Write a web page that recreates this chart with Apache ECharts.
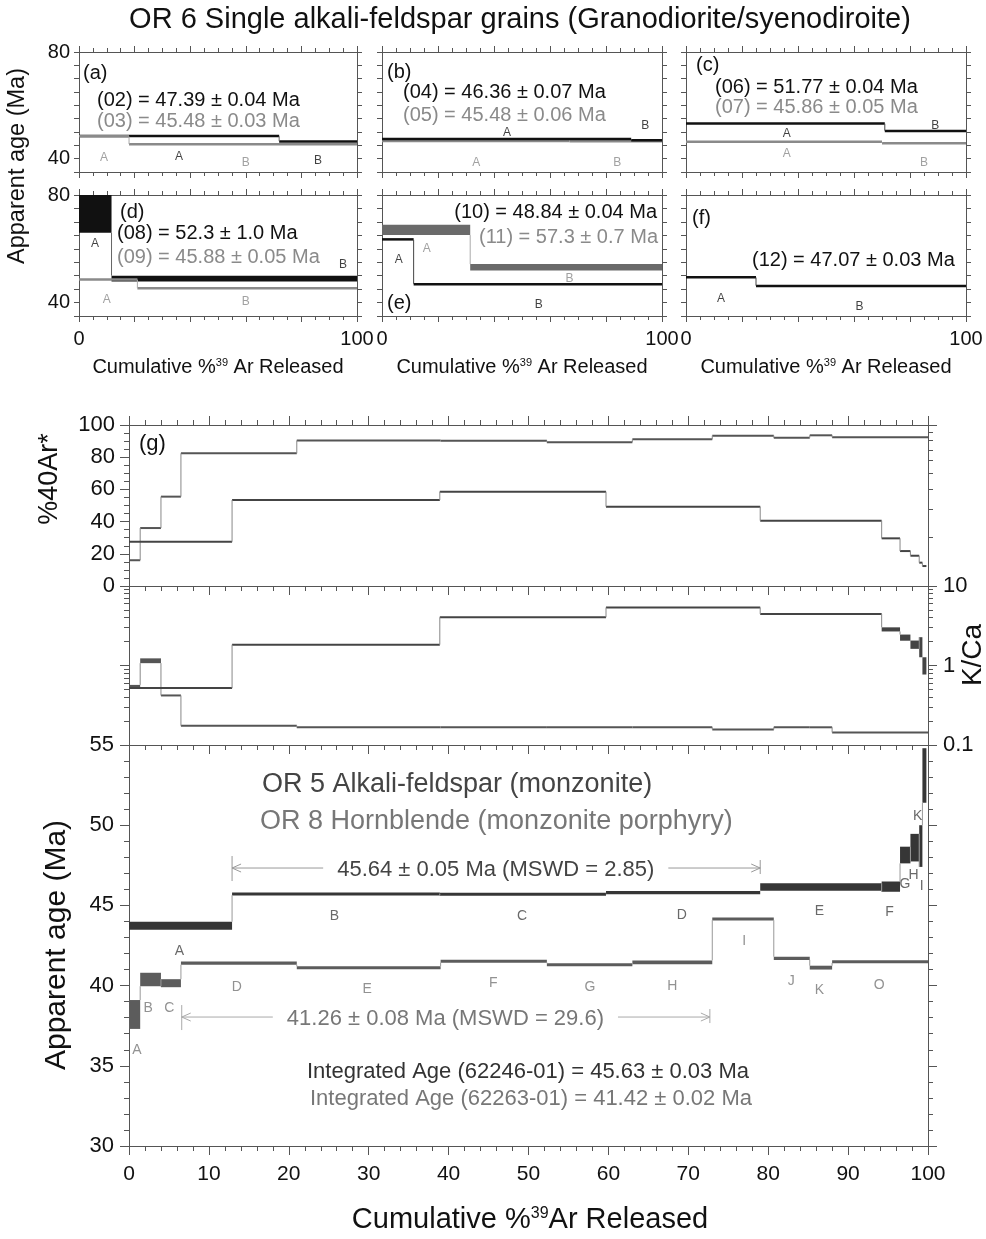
<!DOCTYPE html>
<html>
<head>
<meta charset="utf-8">
<script src="https://cdn.jsdelivr.net/npm/echarts@6/dist/echarts.min.js"></script>
<style>
  html, body { margin: 0; background: #fff; }
  #chart { width: 986px; height: 1239px; }
</style>
</head>
<body>
<div id="chart"></div>
<script>
// ---- single grains (panels a-f): step edges (cum. %39Ar), apparent ages, 1s widths
const edges02 = [0, 72, 100],   ages02 = [48.5, 46.4], err02 = [0.1, 0.2];
const edges03 = [0, 18, 100],   ages03 = [48.4, 45.4], err03 = [0.1, 0.1];
const edges04 = [0, 89, 100],   ages04 = [47.4, 46.9], err04 = [0.1, 0.35];
const edges05 = [0, 67, 100],   ages05 = [46.6, 46.5], err05 = [0.15, 0.15];
const edges06 = [0, 71, 100],   ages06 = [53.2, 50.4], err06 = [0.1, 0.1];
const edges07 = [0, 70, 100],   ages07 = [46.3, 45.8], err07 = [0.1, 0.1];
const edges08 = [0, 11.7, 100], ages08 = [74.0, 48.9], err08 = [8.0, 1.1];
const edges09 = [0, 21, 100],   ages09 = [48.6, 45.3], err09 = [0.1, 0.1];
const edges10 = [0, 11.3, 100], ages10 = [63.5, 46.8], err10 = [0.15, 0.15];
const edges11 = [0, 31.5, 100], ages11 = [67.0, 53.1], err11 = [1.9, 1.2];
const edges12 = [0, 25, 100],   ages12 = [49.4, 46.2], err12 = [0.1, 0.1];

// step letter positions [x, age]
const lab02 = [[36, 40.9], [86, 39.3]];
const lab03 = [[9, 40.5], [60, 38.4]];
const lab04 = [[44.6, 49.8], [94, 52.5]];
const lab05 = [[33.7, 38.4], [84, 38.4]];
const lab06 = [[36, 49.5], [89, 52.5]];
const lab07 = [[36, 41.7], [85, 38.4]];
const lab08 = [[5.8, 62.0], [95, 54.0]];
const lab09 = [[10, 41.0], [60, 40.4]];
const lab10 = [[6, 55.8], [56, 39.1]];
const lab11 = [[16, 60.2], [67, 49.0]];
const lab12 = [[12.5, 41.6], [62, 38.5]];
const twoSteps = ['A', 'B'];

// ---- panel g: OR 8 hornblende (62263-01)
const hbEdges = [0, 1.4, 4.0, 6.5, 21.0, 39.0, 52.3, 63.0, 73.0, 80.7, 85.2, 88.0, 100];
const hbSteps = ['A', 'B', 'C', 'D', 'E', 'F', 'G', 'H', 'I', 'J', 'K', 'O'];
const hbAge = [38.2, 40.38, 40.15, 41.4, 41.12, 41.52, 41.3, 41.45, 44.15, 41.7, 41.12, 41.48];
const hbAgeErr = [0.9, 0.42, 0.25, 0.1, 0.08, 0.08, 0.1, 0.12, 0.07, 0.1, 0.12, 0.07];
const hbRad = [16, 36, 55.5, 82.4, 90.4, 90.2, 89.3, 91.1, 93.4, 92.1, 93.6, 92.4];
const hbKCa = [0.545, 1.15, 0.42, 0.175, 0.167, 0.167, 0.167, 0.167, 0.157, 0.167, 0.167, 0.144];
const hbKCaErr = [0.025, 0.08, 0, 0, 0, 0, 0, 0, 0, 0, 0, 0];
const hbLabelPos = [[1.0, 36.0], [2.4, 38.6], [5.05, 38.6], [13.5, 39.93], [29.8, 39.8], [45.6, 40.16],
                    [57.7, 39.9], [68.0, 39.97], [77.0, 42.8], [82.9, 40.3], [86.4, 39.7], [93.9, 40.04]];

// ---- panel g: OR 5 alkali-feldspar (62246-01)
const kfEdges = [0, 12.9, 38.9, 59.7, 79.0, 94.2, 96.5, 97.8, 98.9, 99.3, 99.8];
const kfSteps = ['A', 'B', 'C', 'D', 'E', 'F', 'G', 'H', 'I', 'K'];
const kfAge = [43.73, 45.71, 45.69, 45.8, 46.15, 46.17, 48.14, 48.6, 48.7, 53.1];
const kfAgeErr = [0.25, 0.08, 0.04, 0.1, 0.23, 0.32, 0.52, 0.86, 1.3, 1.7];
const kfRad = [27.5, 53.4, 58.6, 49.3, 40.6, 29.6, 21.7, 18.8, 14.5, 12.4];
const kfKCa = [0.52, 1.83, 4.04, 5.37, 4.45, 2.85, 2.25, 1.84, 1.77, 1.02];
const kfKCaErr = [0, 0, 0, 0, 0, 0.17, 0.2, 0.22, 0.5, 0.25];
const kfLabelPos = [[6.3, 42.15], [25.7, 44.34], [49.2, 44.34], [69.2, 44.4], [86.4, 44.65],
                    [95.2, 44.6], [97.1, 46.33], [98.2, 46.9], [99.2, 46.2], [98.7, 50.57]];

// plateau arrows: [tick start, arrow end], [arrow start, tick end], arrow age
const kfPlateau = [12.9, 24.3, 67.5, 79.0], kfPlateauAge = 47.33;
const hbPlateau = [6.6, 18.0, 61.2, 72.7], hbPlateauAge = 38.04;

const FONT = '"Liberation Sans", Arial, Helvetica, sans-serif';
const BLACK = '#111', GRAY = '#8a8a8a';
const KF = '#363636', HB = '#5c5c5c';
const AX = '#555';

function stepData(edges, vals, errs) {
  return vals.map((v, i) => [edges[i], edges[i + 1], v, errs ? errs[i] : 0,
    i ? vals[i - 1] : null, i ? (errs ? errs[i - 1] : 0) : null]);
}

function stepSeries(xi, yi, data, color, connColor, minH, z) {
  return {
    type: 'custom', xAxisIndex: xi, yAxisIndex: yi, silent: true, z: z || 3,
    encode: { x: 0, y: 2 },
    data: data,
    renderItem: function (params, api) {
      const x0 = api.value(0), x1 = api.value(1), v = api.value(2), e = api.value(3);
      const pv = api.value(4), pe = api.value(5);
      const cs = params.coordSys;
      const pTop = api.coord([x0, v + e]);
      const pBot = api.coord([x1, v - e]);
      let y0 = pTop[1], y1 = pBot[1];
      if (y1 - y0 < minH) { const c = (y0 + y1) / 2; y0 = c - minH / 2; y1 = c + minH / 2; }
      const children = [];
      const r = echarts.graphic.clipRectByRect(
        { x: pTop[0], y: y0, width: pBot[0] - pTop[0], height: y1 - y0 },
        { x: cs.x, y: cs.y, width: cs.width, height: cs.height });
      if (r) children.push({ type: 'rect', shape: r, style: { fill: color } });
      if (!isNaN(pv)) {
        const from = pv > v ? pv - pe : pv + pe;
        const to = pv > v ? v + e : v - e;
        const clamp = y => Math.min(cs.y + cs.height, Math.max(cs.y, y));
        const a = clamp(api.coord([x0, from])[1]), b = clamp(api.coord([x0, to])[1]);
        children.push({ type: 'line', shape: { x1: pTop[0], y1: a, x2: pTop[0], y2: b },
          style: { stroke: connColor, lineWidth: 1 } });
      }
      return { type: 'group', children: children };
    }
  };
}

function letterSeries(xi, yi, pts, letters, color, size) {
  return {
    type: 'scatter', xAxisIndex: xi, yAxisIndex: yi, symbolSize: 1, silent: true, z: 6,
    itemStyle: { color: 'rgba(0,0,0,0)' },
    label: { show: true, position: 'inside', formatter: p => p.name, color: color,
      fontSize: size, fontFamily: FONT },
    data: pts.map((p, i) => ({ name: letters[i], value: p }))
  };
}

const line = { color: AX, width: 1 };
const grids = [
  { left: 79, top: 52, width: 278, height: 120 },   // (a)
  { left: 79, top: 195, width: 278, height: 121 },  // (d)
  { left: 382, top: 52, width: 280, height: 120 },  // (b)
  { left: 382, top: 195, width: 280, height: 121 }, // (e)
  { left: 686, top: 52, width: 280, height: 120 },  // (c)
  { left: 686, top: 195, width: 280, height: 121 }, // (f)
  { left: 129, top: 425, width: 799, height: 161 }, // %40Ar*
  { left: 129, top: 586, width: 799, height: 159 }, // K/Ca
  { left: 129, top: 745, width: 799, height: 401 }  // age
];

const xAxes = [], yAxes = [];
const tickLabel = (show, extra) => Object.assign({ show: show, color: '#111', fontSize: 20, fontFamily: FONT }, extra);

// small panels: grid gi uses xAxis 2*gi (bottom) and yAxis 2*gi (left)
for (let gi = 0; gi < 6; gi++) {
  const bottomRow = gi % 2 === 1, leftCol = gi < 2;
  ['bottom', 'top'].forEach(pos => xAxes.push({
    gridIndex: gi, type: 'value', position: pos, min: 0, max: 100, interval: 20,
    axisLine: { show: true, onZero: false, lineStyle: line },
    axisTick: { show: true, length: 6, lineStyle: line },
    minorTick: { show: true, splitNumber: 4, length: 4, lineStyle: line },
    splitLine: { show: false },
    axisLabel: tickLabel(pos === 'bottom' && bottomRow,
      { margin: 13, formatter: v => (v === 0 || v === 100) ? String(v) : '' })
  }));
  ['left', 'right'].forEach(pos => yAxes.push({
    gridIndex: gi, type: 'value', position: pos, min: 35, max: 80, interval: 5,
    axisLine: { show: true, onZero: false, lineStyle: line },
    axisTick: { show: true, length: 5, lineStyle: line },
    splitLine: { show: false },
    axisLabel: tickLabel(pos === 'left' && leftCol,
      { margin: 9, formatter: v => (v === 40 || v === 80) ? String(v) : '' })
  }));
}

function pctAxis(gi, pos, inside, labels) {
  return {
    gridIndex: gi, type: 'value', position: pos, min: 0, max: 100, interval: 10,
    axisLine: { show: true, onZero: false, lineStyle: line },
    axisTick: { show: true, inside: inside, length: 9, lineStyle: line },
    minorTick: { show: true, splitNumber: 5, length: 5, lineStyle: line },
    splitLine: { show: false },
    axisLabel: tickLabel(labels, { fontSize: 21, margin: 18 })
  };
}
xAxes.push(pctAxis(6, 'top', false, false));    // 12
xAxes.push(pctAxis(7, 'top', true, false));     // 13
xAxes.push(pctAxis(8, 'top', true, false));     // 14
xAxes.push(pctAxis(8, 'bottom', false, true));  // 15

function logAxis(gi, pos, min, max, labels) {
  return {
    gridIndex: gi, type: 'log', logBase: 10, position: pos, min: min, max: max,
    axisLine: { show: true, onZero: false, lineStyle: line },
    axisTick: { show: true, length: 9, lineStyle: line },
    minorTick: { show: true, splitNumber: 9, length: 5, lineStyle: line },
    splitLine: { show: false },
    axisLabel: tickLabel(labels, { fontSize: 22, margin: 15 })
  };
}
yAxes.push({ // 12 %40Ar*
  gridIndex: 6, type: 'value', position: 'left', min: 0, max: 100, interval: 20,
  axisLine: { show: true, onZero: false, lineStyle: line },
  axisTick: { show: true, length: 9, lineStyle: line },
  minorTick: { show: true, splitNumber: 4, length: 5, lineStyle: line },
  splitLine: { show: false },
  axisLabel: tickLabel(true, { fontSize: 22, margin: 14 })
});
yAxes.push(logAxis(6, 'right', 10, 100, false)); // 13
yAxes.push(logAxis(7, 'left', 0.1, 10, false));  // 14
yAxes.push(logAxis(7, 'right', 0.1, 10, true));  // 15
['left', 'right'].forEach(pos => yAxes.push({    // 16, 17 age
  gridIndex: 8, type: 'value', position: pos, min: 30, max: 55, interval: 5,
  axisLine: { show: true, onZero: false, lineStyle: line },
  axisTick: { show: true, length: 9, lineStyle: line },
  minorTick: { show: true, splitNumber: 5, length: 5, lineStyle: line },
  splitLine: { show: false },
  axisLabel: tickLabel(pos === 'left', { fontSize: 22, margin: 15 })
}));

const series = [
  // (a) grid 0
  stepSeries(0, 0, stepData(edges02, ages02, err02), BLACK, '#666', 2.5),
  stepSeries(0, 0, stepData(edges03, ages03, err03), GRAY, '#aaa', 2.5, 4),
  letterSeries(0, 0, lab02, twoSteps, BLACK, 12),
  letterSeries(0, 0, lab03, twoSteps, GRAY, 12),
  // (d) grid 1
  stepSeries(2, 2, stepData(edges08, ages08, err08), BLACK, '#666', 2.5),
  stepSeries(2, 2, stepData(edges09, ages09, err09), GRAY, '#aaa', 2.5, 4),
  letterSeries(2, 2, lab08, twoSteps, BLACK, 12),
  letterSeries(2, 2, lab09, twoSteps, GRAY, 12),
  // (b) grid 2
  stepSeries(4, 4, stepData(edges05, ages05, err05), GRAY, '#aaa', 2.5),
  stepSeries(4, 4, stepData(edges04, ages04, err04), BLACK, '#666', 2.5, 4),
  letterSeries(4, 4, lab04, twoSteps, BLACK, 12),
  letterSeries(4, 4, lab05, twoSteps, GRAY, 12),
  // (e) grid 3
  stepSeries(6, 6, stepData(edges11, ages11, err11), '#6a6a6a', '#aaa', 2.5),
  stepSeries(6, 6, stepData(edges10, ages10, err10), BLACK, '#444', 2.5, 4),
  letterSeries(6, 6, lab10, twoSteps, BLACK, 12),
  letterSeries(6, 6, lab11, twoSteps, GRAY, 12),
  // (c) grid 4
  stepSeries(8, 8, stepData(edges06, ages06, err06), BLACK, '#444', 2.5),
  stepSeries(8, 8, stepData(edges07, ages07, err07), GRAY, '#aaa', 2.5),
  letterSeries(8, 8, lab06, twoSteps, BLACK, 12),
  letterSeries(8, 8, lab07, twoSteps, GRAY, 12),
  // (f) grid 5
  stepSeries(10, 10, stepData(edges12, ages12, err12), BLACK, '#444', 2.5),
  letterSeries(10, 10, lab12, twoSteps, BLACK, 12),
  // (g) %40Ar*
  stepSeries(12, 12, stepData(hbEdges, hbRad), '#555', '#888', 2),
  stepSeries(12, 12, stepData(kfEdges, kfRad), '#444', '#888', 2),
  // (g) K/Ca
  stepSeries(13, 15, stepData(hbEdges, hbKCa, hbKCaErr), '#555', '#888', 2),
  stepSeries(13, 15, stepData(kfEdges, kfKCa, kfKCaErr), '#444', '#888', 2),
  // (g) age spectra
  stepSeries(15, 16, stepData(hbEdges, hbAge, hbAgeErr), HB, '#999', 3),
  stepSeries(15, 16, stepData(kfEdges, kfAge, kfAgeErr), KF, '#999', 3),
  letterSeries(15, 16, hbLabelPos, hbSteps, '#777', 14),
  letterSeries(15, 16, kfLabelPos, kfSteps, '#444', 14)
];

function txt(x, y, text, size, color, align, extra) {
  return Object.assign({
    type: 'text', x: x, y: y, silent: true, z: 10,
    style: { text: text, fontSize: size, fill: color, fontFamily: FONT,
      align: align || 'left', verticalAlign: 'middle' }
  }, extra || {});
}
function supTxt(x, y, text, size, supSize) {
  return {
    type: 'text', x: x, y: y, silent: true, z: 10,
    style: { text: text, fontSize: size, fill: '#111', fontFamily: FONT, align: 'center', verticalAlign: 'middle',
      rich: { s: { fontSize: supSize, fontFamily: FONT, fill: '#111', verticalAlign: 'top' } } }
  };
}

const graphics = [
  txt(520, 20, 'OR 6 Single alkali-feldspar grains (Granodiorite/syenodiroite)', 29, '#111', 'center'),
  txt(18, 166, 'Apparent age (Ma)', 23.5, '#111', 'center', { rotation: Math.PI / 2 }),
  // (a)
  txt(83, 73, '(a)', 20, '#111'),
  txt(97, 100, '(02) = 47.39 ± 0.04 Ma', 20, BLACK),
  txt(97, 121, '(03) = 45.48 ± 0.03 Ma', 20, GRAY),
  // (d)
  txt(120, 212, '(d)', 20, '#111'),
  txt(117, 233, '(08) = 52.3 ± 1.0 Ma', 20, BLACK),
  txt(117, 257, '(09) = 45.88 ± 0.05 Ma', 20, GRAY),
  // (b)
  txt(387, 72, '(b)', 20, '#111'),
  txt(403, 92, '(04) = 46.36 ± 0.07 Ma', 20, BLACK),
  txt(403, 115, '(05) = 45.48 ± 0.06 Ma', 20, GRAY),
  // (e)
  txt(657, 212, '(10) = 48.84 ± 0.04 Ma', 20, BLACK, 'right'),
  txt(658, 237, '(11) = 57.3 ± 0.7 Ma', 20, GRAY, 'right'),
  txt(387, 303, '(e)', 20, '#111'),
  // (c)
  txt(696, 65, '(c)', 20, '#111'),
  txt(715, 87, '(06) = 51.77 ± 0.04 Ma', 20, BLACK),
  txt(715, 107, '(07) = 45.86 ± 0.05 Ma', 20, GRAY),
  // (f)
  txt(692, 218, '(f)', 20, '#111'),
  txt(752, 260, '(12) = 47.07 ± 0.03 Ma', 20, BLACK),
  // small x-axis names
  supTxt(218, 367, 'Cumulative %{s|39} Ar Released', 20, 11),
  supTxt(522, 367, 'Cumulative %{s|39} Ar Released', 20, 11),
  supTxt(826, 367, 'Cumulative %{s|39} Ar Released', 20, 11),
  // (g)
  txt(139, 444, '(g)', 22, '#111'),
  txt(50, 479, '%40Ar*', 27, '#111', 'center', { rotation: Math.PI / 2 }),
  txt(973, 655, 'K/Ca', 28, '#111', 'center', { rotation: Math.PI / 2 }),
  txt(57, 945, 'Apparent age (Ma)', 30, '#111', 'center', { rotation: Math.PI / 2 }),
  txt(262, 785, 'OR 5 Alkali-feldspar (monzonite)', 27, '#444'),
  txt(260, 822, 'OR 8 Hornblende (monzonite porphyry)', 27, '#777'),
  txt(528, 1072, 'Integrated Age (62246-01) = 45.63 ± 0.03 Ma', 22, '#333', 'center'),
  txt(531, 1099, 'Integrated Age (62263-01) = 41.42 ± 0.02 Ma', 22, '#777', 'center'),
  supTxt(530, 1220, 'Cumulative %{s|39}Ar Released', 29, 16)
];

const chart = echarts.init(document.getElementById('chart'), null, { renderer: 'canvas' });
chart.setOption({
  animation: false,
  backgroundColor: '#fff',
  grid: grids,
  xAxis: xAxes,
  yAxis: yAxes,
  series: series,
  graphic: graphics
});

// plateau arrows, placed through the age axes
function plateauGraphics(pl, age, label, textColor, lineColor) {
  const px = x => chart.convertToPixel({ xAxisIndex: 15, yAxisIndex: 16 }, [x, age]);
  const a = px(pl[0]), b = px(pl[1]), c = px(pl[2]), d = px(pl[3]);
  const y = a[1];
  const st = { stroke: lineColor, lineWidth: 1 };
  const L = (x1, y1, x2, y2) => ({ type: 'line', silent: true, z: 9, shape: { x1, y1, x2, y2 }, style: st });
  return [
    L(a[0], y - 12, a[0], y + 13), L(a[0], y, b[0], y),
    L(a[0], y, a[0] + 9, y - 4), L(a[0], y, a[0] + 9, y + 4),
    L(d[0], y - 8, d[0], y + 6), L(c[0], y, d[0], y),
    L(d[0], y, d[0] - 9, y - 4), L(d[0], y, d[0] - 9, y + 4),
    txt((b[0] + c[0]) / 2, y + 2, label, 22, textColor, 'center')
  ];
}
chart.setOption({
  graphic: graphics.concat(
    plateauGraphics(kfPlateau, kfPlateauAge, '45.64 ± 0.05 Ma (MSWD = 2.85)', '#444', '#999'),
    plateauGraphics(hbPlateau, hbPlateauAge, '41.26 ± 0.08 Ma (MSWD = 29.6)', '#777', '#aaa'))
});
</script>
</body>
</html>
